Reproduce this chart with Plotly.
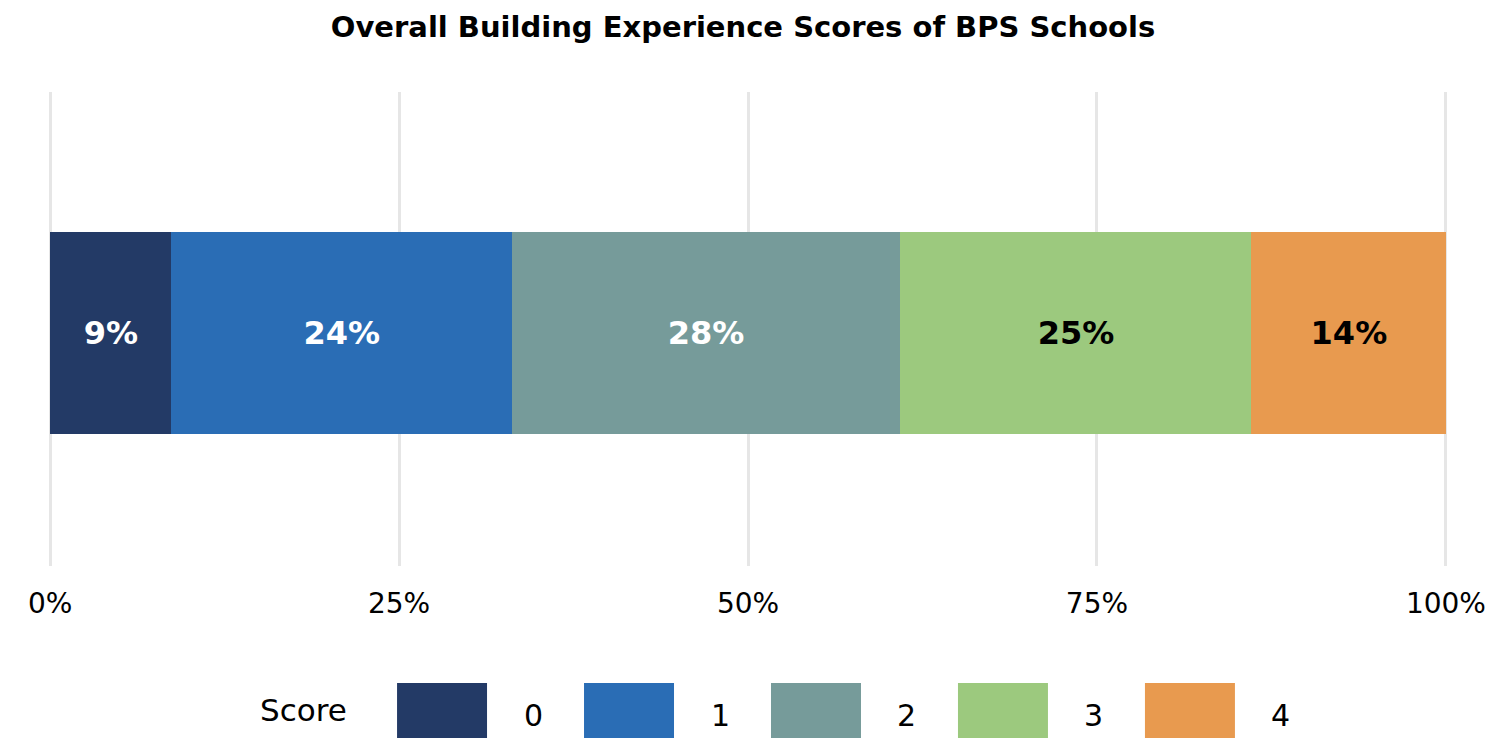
import plotly.graph_objects as go

# Données
scores = ['0', '1', '2', '3', '4']
shares = [8.7, 24.4, 27.8, 25.2, 13.9]
colors = ['#233a66', '#2a6db5', '#769b9a', '#9cc97e', '#e89a4f']
text_colors = ['white', 'white', 'white', 'black', 'black']
tick_vals = [0, 25, 50, 75, 100]
tick_text = ['0%', '25%', '50%', '75%', '100%']

FONT = 'DejaVu Sans'

# la page ajoute une marge de 8 px autour du graphique
OFF = 8
PLOT_L, PLOT_R, PLOT_T, PLOT_B = 50, 1446, 92, 566
W, H = 1509 - OFF, 738 - OFF
PAD = 0.15  # pour garder les lignes de grille à 0 % et 100 %
unit = (PLOT_R - PLOT_L) / 100
L_EXT, R_EXT = PLOT_L - PAD * unit, PLOT_R + PAD * unit


def px(x):
    return (x - L_EXT) / (R_EXT - L_EXT)


def py(y):
    return (PLOT_B - y) / (PLOT_B - PLOT_T)


traces = []
for s, v, c, tc in zip(scores, shares, colors, text_colors):
    traces.append(go.Bar(
        name=s,
        x=[v],
        y=['BPS'],
        orientation='h',
        marker=dict(color=c, line=dict(color=c, width=1)),
        text=[f"<b>{round(v)}%</b>"],
        textposition='inside',
        insidetextanchor='middle',
        textfont=dict(size=32, color=tc, family=FONT),
        hovertemplate='Score ' + s + ': %{x}%<extra></extra>',
        width=0.424,
    ))

fig = go.Figure(data=traces)

# Légende dessinée à la main (grands carrés)
shapes = []
annotations = [dict(
    text='Score', x=px(258), y=py(710),
    xref='paper', yref='paper', xanchor='left', yanchor='middle',
    showarrow=False, font=dict(size=31, color='black', family=FONT)
)]
for i, (s, c) in enumerate(zip(scores, colors)):
    x0 = 397 + i * 187
    shapes.append(dict(
        type='rect', xref='paper', yref='paper',
        x0=px(x0), x1=px(x0 + 90),
        y0=py(683), y1=py(760),
        fillcolor=c, line=dict(width=0), layer='above'
    ))
    annotations.append(dict(
        text=s, x=px(x0 + 136), y=py(715),
        xref='paper', yref='paper', xanchor='center', yanchor='middle',
        showarrow=False, font=dict(size=30, color='black', family=FONT)
    ))

fig.update_layout(
    barmode='stack',
    width=W,
    height=H,
    template='plotly_white',
    plot_bgcolor='white',
    paper_bgcolor='white',
    showlegend=False,
    title={
        'text': "<b>Overall Building Experience Scores of BPS Schools</b>",
        'x': (743 - OFF) / W,
        'xanchor': 'center',
        'y': 1 - (27 - OFF) / H,
        'yanchor': 'middle',
        'font': dict(size=29, color='black', family=FONT)
    },
    xaxis=dict(
        range=[-PAD, 100 + PAD],
        tickvals=tick_vals,
        ticktext=tick_text,
        showgrid=True,
        gridcolor='#e6e6e6',
        gridwidth=3,
        zeroline=False,
        showline=False,
        ticks='',
        ticklabelstandoff=18,
        tickfont=dict(size=28, color='black', family=FONT),
    ),
    yaxis=dict(
        range=[-0.4926, 0.5074],
        showticklabels=False,
        showgrid=False,
        zeroline=False,
        showline=False,
    ),
    shapes=shapes,
    annotations=annotations,
    margin=dict(l=L_EXT - OFF, r=1509 - R_EXT, t=PLOT_T - OFF, b=738 - PLOT_B)
)

fig.write_html("out.html")
